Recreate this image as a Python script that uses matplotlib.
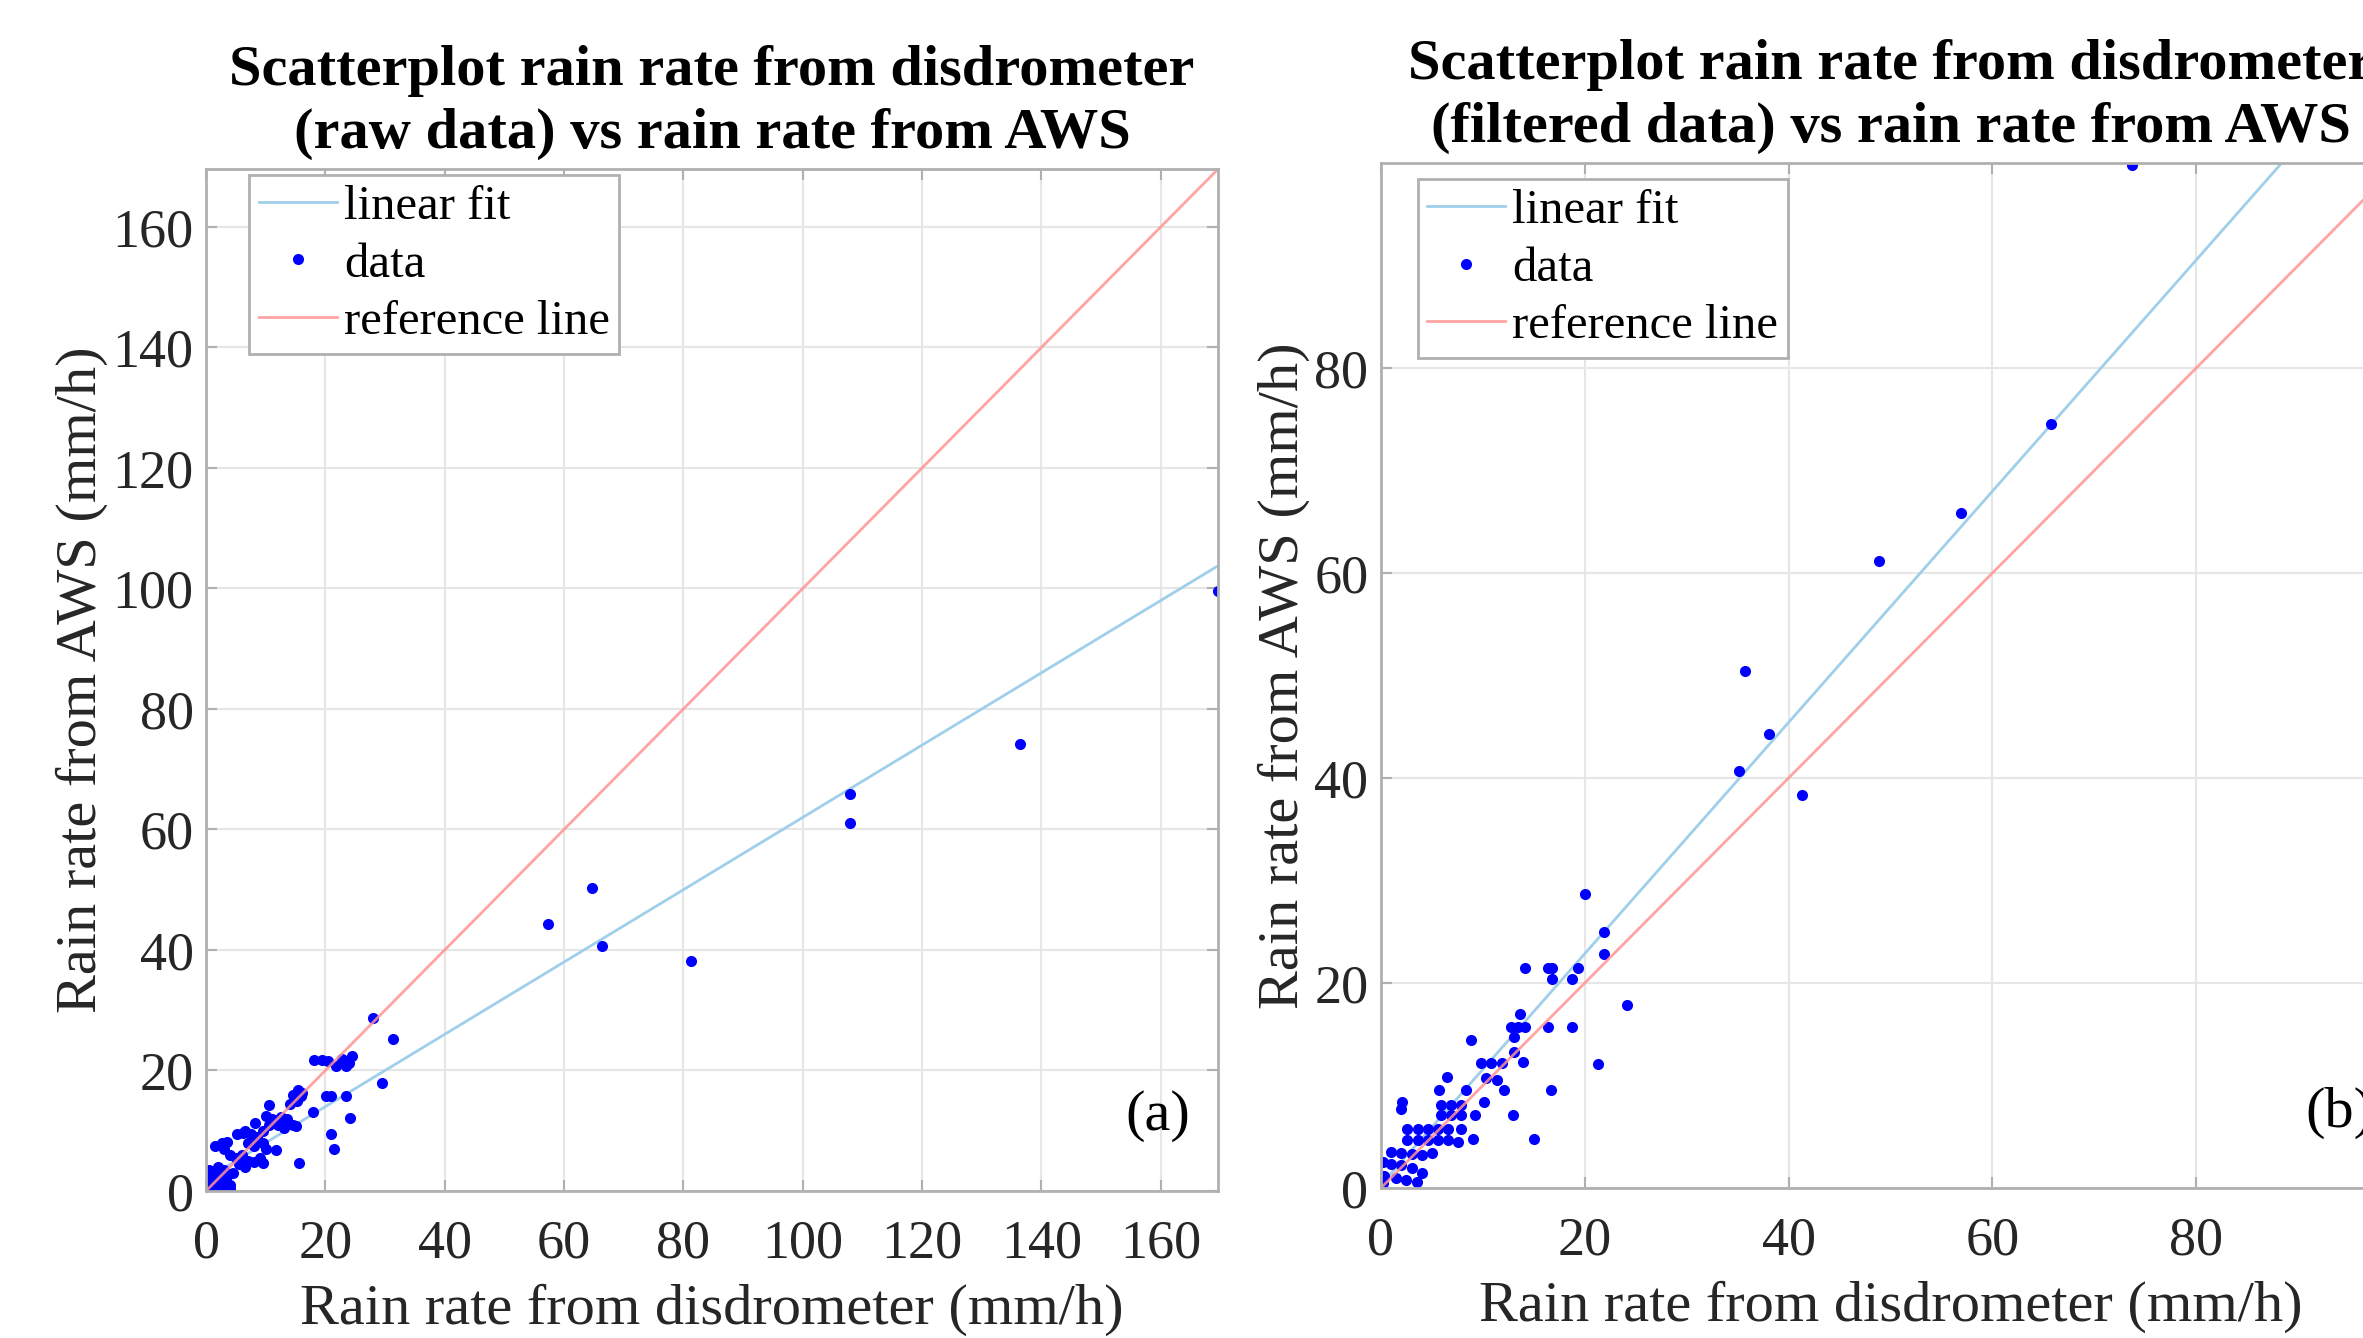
import matplotlib.pyplot as plt
import numpy as np

plt.rcParams['font.family'] = ['Liberation Serif', 'DejaVu Serif']

# raw data (left panel): disdrometer vs AWS rain rate (mm/h)
raw_x = [169.6, 136.4, 107.9, 107.9, 81.2, 57.3, 64.7, 66.3, 28.0, 31.4, 29.5,
         18.1, 19.5, 20.5, 21.7, 23.4, 24.5, 24.0, 22.8, 15.4, 15.9, 20.1, 21.0,
         23.4, 10.6, 17.9, 24.1, 20.9, 21.4, 15.6, 8.2, 2.6, 3.5, 6.2, 11.8,
         11.2, 9.5,
         14.5, 15.2, 16.0, 14.0, 10.0, 11.0, 12.5, 13.5, 14.5, 12.0, 13.0, 15.0,
         10.5, 9.5, 5.2, 6.5, 7.5, 8.5, 9.5, 7.0, 8.0, 10.0, 1.5, 3.0, 4.0, 5.0,
         6.0, 7.0, 8.0, 9.0, 5.5, 6.5, 0.5, 1.0, 1.5, 2.0, 3.0, 4.0, 1.0, 0.5,
         2.5, 3.5, 4.5, 2.0, 3.0, 0.3, 1.5, 4.0]
raw_y = [99.5, 74.2, 65.8, 61.0, 38.1, 44.3, 50.3, 40.6, 28.7, 25.2, 17.9,
         21.8, 21.8, 21.5, 20.7, 20.7, 22.4, 21.2, 21.9, 16.8, 15.7, 15.7, 15.7,
         15.7, 14.3, 13.1, 12.1, 9.4, 7.0, 4.6, 11.3, 7.9, 8.1, 9.6, 6.8,
         11.8, 4.6,
         16.0, 15.0, 16.2, 14.5, 12.5, 12.0, 12.2, 12.0, 11.0, 11.0, 10.5, 10.8,
         11.0, 10.0, 9.5, 10.0, 9.5, 9.0, 8.0, 8.0, 7.5, 7.0, 7.5, 7.0, 6.0, 5.5,
         6.0, 5.0, 4.8, 5.5, 4.5, 4.0, 3.5, 3.0, 2.5, 2.0, 1.5, 1.0, 1.0, 0.5,
         0.5, 2.5, 3.0, 4.0, 3.5, 2.0, 1.5, 0.3]

# filtered data (right panel)
filt_x = [73.65, 65.75, 56.9, 48.9, 35.7, 38.1, 35.1, 41.3, 20.05, 21.9, 21.9,
          24.1, 21.3, 14.1, 16.4, 16.8, 16.8, 19.3, 18.7, 13.6, 12.8, 13.4, 14.1,
          16.4, 18.7, 8.8, 13.1, 13.1, 13.9, 9.8, 10.8, 11.9, 10.3, 11.4, 6.5,
          5.7, 8.3, 12.1, 16.7, 10.1, 2.1, 2.0, 5.9, 6.9, 7.9, 5.9, 6.9, 7.9,
          9.2, 13.0, 2.6, 3.6, 4.6, 5.6, 6.6, 7.9, 9.0, 15.0, 2.6, 3.6, 4.6, 5.6,
          6.6, 7.6, 1.0, 2.0, 3.0, 4.0, 5.0, 0.2, 1.0, 2.0, 3.0, 4.0, 0.3, 1.5,
          2.5, 0.2, 3.5]
filt_y = [99.8, 74.5, 65.9, 61.2, 50.4, 44.3, 40.7, 38.3, 28.7, 25.0, 22.8,
          17.9, 12.1, 21.5, 21.5, 21.5, 20.4, 21.5, 20.4, 17.0, 15.7, 15.7, 15.7,
          15.7, 15.7, 14.4, 14.7, 13.3, 12.3, 12.2, 12.2, 12.2, 10.7, 10.5, 10.8,
          9.6, 9.6, 9.6, 9.6, 8.4, 8.4, 7.7, 8.1, 8.1, 8.1, 7.1, 7.1, 7.1,
          7.1, 7.1, 5.8, 5.8, 5.8, 5.8, 5.8, 5.8, 4.8, 4.8, 4.7, 4.7, 4.7, 4.7,
          4.7, 4.5, 3.5, 3.4, 3.3, 3.2, 3.4, 2.5, 2.3, 2.2, 2.0, 1.5, 1.2, 1.0,
          0.8, 0.5, 0.6]

# linear fit coefficients (slope, intercept)
fit_raw = (0.6, 2.0)
fit_filt = (1.128, 0.3)

titles = ['Scatterplot rain rate from disdrometer\n(raw data) vs rain rate from AWS',
          'Scatterplot rain rate from disdrometer\n(filtered data) vs rain rate from AWS']
panel_tags = ['(a)', '(b)']

fit_color = '#9fcfea'
ref_color = '#ff9393'
grey = '#262626'

fig = plt.figure(figsize=(23.63, 13.38), dpi=100)
ax1 = fig.add_axes([0.0872, 0.1099, 0.4283, 0.7638])
ax2 = fig.add_axes([0.5844, 0.1121, 0.4313, 0.7661])


def draw(ax, xs, ys, fit, lim, ticks, title, tag, leg_anchor):
    xf = np.array([0, lim])
    ax.plot(xf, fit[0] * xf + fit[1], color=fit_color, lw=2, label='linear fit')
    ax.plot(xs, ys, 'o', color='blue', ms=8, mew=0, label='data')
    ax.plot([0, lim], [0, lim], color=ref_color, lw=2, alpha=0.85, label='reference line')
    ax.set_xlim(0, lim)
    ax.set_ylim(0, lim)
    ax.set_xticks(ticks)
    ax.set_yticks(ticks)
    ax.grid(True, color='#e6e6e6', lw=1.5)
    ax.set_axisbelow(True)
    for s in ax.spines.values():
        s.set_color('#b0b0b0')
        s.set_linewidth(2)
    ax.tick_params(direction='in', top=True, right=True, length=8, width=1.5,
                   color='#b0b0b0', labelsize=39, labelcolor=grey)
    ax.tick_params(axis='x', pad=20)
    ax.tick_params(axis='y', pad=9)
    ax.set_xlabel('Rain rate from disdrometer (mm/h)', fontsize=42, color=grey, labelpad=10)
    ax.set_ylabel('Rain rate from AWS (mm/h)', fontsize=42, color=grey, labelpad=3)
    ax.set_title(title, fontsize=42, fontweight='bold', color='black', pad=15, linespacing=1.28)
    ax.text(0.94, 0.073, tag, transform=ax.transAxes, fontsize=42, ha='center', va='center')
    leg = ax.legend(loc='upper left', bbox_to_anchor=leg_anchor, borderaxespad=0,
                    fontsize=35, fancybox=False, edgecolor='#b0b0b0', framealpha=1,
                    handlelength=1.6, handletextpad=0.15, borderpad=0.2,
                    labelspacing=0.28, markerscale=1.0)
    leg.get_frame().set_linewidth(2)


draw(ax1, raw_x, raw_y, fit_raw, 169.6, np.arange(0, 161, 20), titles[0], panel_tags[0],
     (0.0425, 0.994))
draw(ax2, filt_x, filt_y, fit_filt, 100, np.arange(0, 81, 20), titles[1], panel_tags[1],
     (0.036, 0.984))

fig.savefig('out.png', dpi=100)
